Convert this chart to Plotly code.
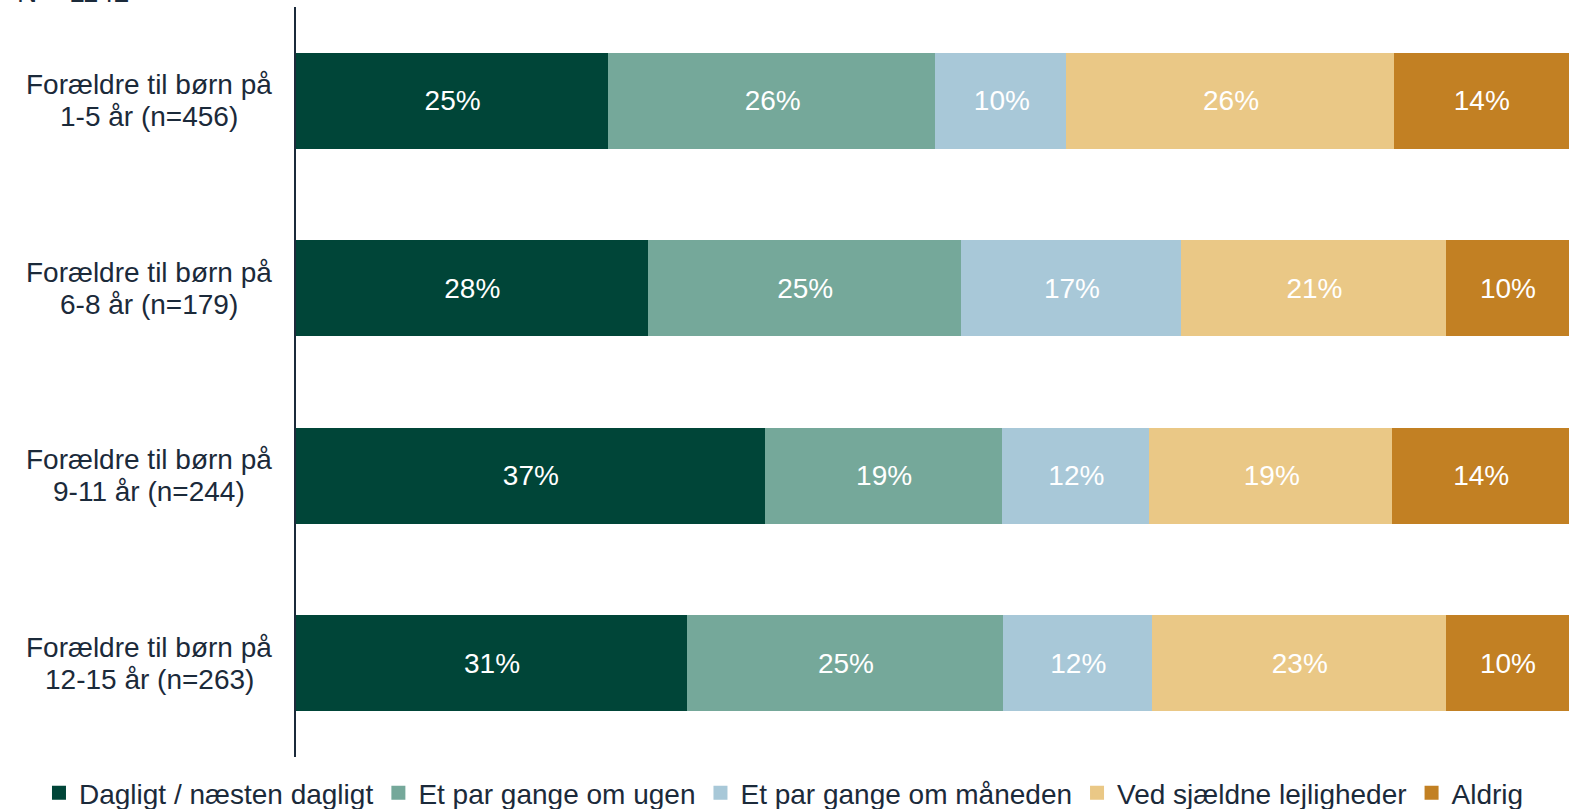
import plotly.graph_objects as go

categories = ["Forældre til børn på<br>1-5 år (n=456)",
              "Forældre til børn på<br>6-8 år (n=179)",
              "Forældre til børn på<br>9-11 år (n=244)",
              "Forældre til børn på<br>12-15 år (n=263)"]
series_names = ["Dagligt / næsten dagligt", "Et par gange om ugen",
                "Et par gange om måneden", "Ved sjældne lejligheder", "Aldrig"]
dagligt = [24.6, 27.7, 36.9, 30.8]
ugen = [25.7, 24.6, 18.6, 24.8]
maaneden = [10.3, 17.3, 11.6, 11.7]
sjaeldne = [25.7, 20.8, 19.1, 23.1]
aldrig = [13.7, 9.6, 13.8, 9.6]
colors = ["#004538", "#75A89A", "#A8C8D8", "#EAC886", "#C28023"]
n_text = "N = 1142"

FONT = "Arial, Liberation Sans, sans-serif"
TXT = "#1B2A3A"

fig = go.Figure()
for name, vals, col in zip(series_names, [dagligt, ugen, maaneden, sjaeldne, aldrig], colors):
    fig.add_trace(go.Bar(
        y=categories, x=vals, name=name, orientation="h",
        marker=dict(color=col, line=dict(color=col, width=2)),
        texttemplate="%{x:.0f}%", textposition="inside", insidetextanchor="middle",
        textfont=dict(color="white", size=28, family=FONT),
        hoverinfo="skip",
    ))

# category labels, centred lines with tighter line spacing
for c in categories:
    lines = c.split("<br>")
    for i, ln in enumerate(lines):
        fig.add_annotation(x=0, xref="paper", y=c, yref="y", text=ln, showarrow=False,
                           xanchor="center", xshift=-147, yanchor="middle",
                           yshift=16 - 32 * i,
                           font=dict(size=28, color=TXT, family=FONT))

fig.add_annotation(x=0, xref="paper", y=1, yref="paper", text=n_text, showarrow=False,
                   xanchor="left", xshift=-281, yanchor="bottom", yshift=-3,
                   font=dict(size=28, color=TXT, family=FONT))

fig.update_layout(
    barmode="stack", bargap=0.5,
    width=1580, height=809,
    margin=dict(l=296, r=11, t=7, b=52, autoexpand=False),
    plot_bgcolor="white", paper_bgcolor="white",
    font=dict(family=FONT, color=TXT),
    xaxis=dict(range=[0, 100], visible=False, fixedrange=True),
    yaxis=dict(autorange="reversed", showticklabels=False, showline=True,
               linecolor="#1B2A3A", linewidth=1.5, ticks="", showgrid=False,
               fixedrange=True),
    legend=dict(orientation="h", x=-0.2019, xref="paper", xanchor="left",
                y=-0.048, yref="paper", yanchor="middle",
                font=dict(size=28, color=TXT, family=FONT),
                itemwidth=30, traceorder="normal"),
    showlegend=True,
)

fig.write_html("out.html", config={"displayModeBar": False},
               post_script="document.body.style.margin='0';")
